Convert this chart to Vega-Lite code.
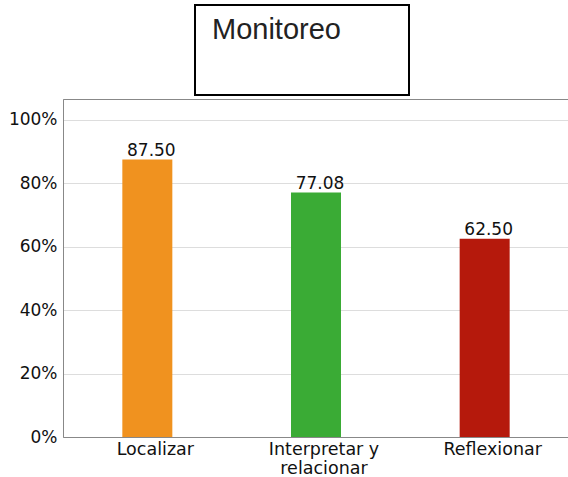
{
  "$schema": "https://vega.github.io/schema/vega-lite/v6.json",
  "padding": {"left": 0, "top": 4, "right": 0, "bottom": 0},
  "background": "white",
  "spacing": 2,
  "config": {
    "font": "DejaVu Sans",
    "view": {"stroke": "#888888", "strokeWidth": 1}
  },
  "vconcat": [
    {
      "bounds": "flush",
      "spacing": 0,
      "hconcat": [
        {
          "width": 132,
          "height": 90,
          "view": {"stroke": null, "fill": "white"},
          "data": {"values": []},
          "mark": "point"
        },
        {
          "width": 214,
          "height": 90,
          "view": {"stroke": "#000000", "strokeWidth": 2},
          "title": {
            "text": "Monitoreo",
            "anchor": "start",
            "dx": 17,
            "offset": -63,
            "font": "Liberation Sans",
            "fontSize": 29,
            "fontWeight": "normal",
            "color": "#222222",
            "baseline": "alphabetic"
          },
          "data": {"values": []},
          "mark": "point"
        }
      ]
    },
    {
      "width": 506,
      "height": 338,
      "data": {
        "values": [
          {"categoria": "Localizar", "porcentaje": 87.5},
          {"categoria": "Interpretar y relacionar", "porcentaje": 77.08},
          {"categoria": "Reflexionar", "porcentaje": 62.5}
        ]
      },
      "encoding": {
        "x": {
          "field": "categoria",
          "type": "nominal",
          "sort": null,
          "title": null,
          "axis": {
            "labelAngle": 0,
            "ticks": false,
            "labelPadding": 3,
            "labelOffset": 8,
            "domainColor": "#888888",
            "labelFont": "DejaVu Sans",
            "labelFontSize": 17.5,
            "labelColor": "#111111",
            "labelBaseline": "top",
            "labelLineHeight": 19,
            "labelExpr": "datum.label == 'Interpretar y relacionar' ? ['Interpretar y', 'relacionar'] : datum.label"
          }
        },
        "y": {
          "field": "porcentaje",
          "type": "quantitative",
          "title": null,
          "scale": {"domain": [0, 106.6], "nice": false},
          "axis": {
            "values": [0, 20, 40, 60, 80, 100],
            "labelExpr": "datum.value + '%'",
            "ticks": false,
            "labelPadding": 6,
            "minExtent": 62,
            "domainColor": "#888888",
            "gridColor": "#dddddd",
            "labelFont": "DejaVu Sans",
            "labelFontSize": 17,
            "labelColor": "#111111"
          }
        }
      },
      "layer": [
        {
          "mark": {"type": "bar", "size": 50},
          "encoding": {
            "color": {
              "field": "categoria",
              "type": "nominal",
              "sort": null,
              "legend": null,
              "scale": {
                "domain": ["Localizar", "Interpretar y relacionar", "Reflexionar"],
                "range": ["#F0921F", "#3AAB35", "#B5190C"]
              }
            }
          }
        },
        {
          "mark": {
            "type": "text",
            "baseline": "alphabetic",
            "dx": 4,
            "dy": -4,
            "fontSize": 17,
            "color": "#111111"
          },
          "encoding": {
            "text": {"field": "porcentaje", "type": "quantitative", "format": ".2f"}
          }
        }
      ]
    }
  ]
}
